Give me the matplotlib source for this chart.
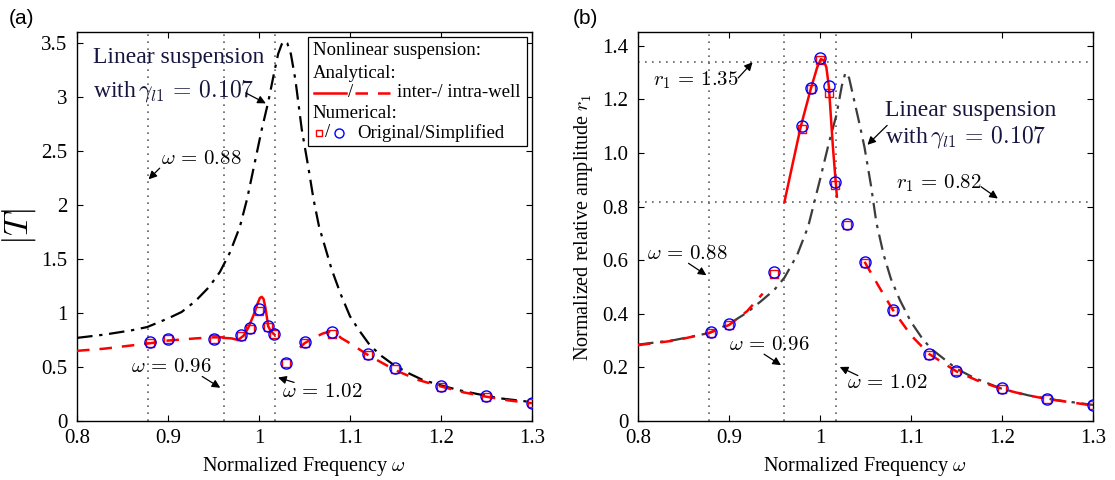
import matplotlib
matplotlib.use('Agg')
import matplotlib.pyplot as plt
from matplotlib.patches import Rectangle

plt.rcParams['font.family'] = ['Liberation Serif', 'DejaVu Serif']
plt.rcParams['mathtext.fontset'] = 'cm'

# ---------------- Panel (a) data: transmissibility |T| ----------------
w_lin_a = [0.80, 0.83, 0.86, 0.877, 0.90, 0.915, 0.93, 0.945, 0.957, 0.968, 0.979, 0.987,
           0.995, 1.003, 1.010, 1.016, 1.021, 1.025, 1.028, 1.031, 1.035, 1.040, 1.047,
           1.054, 1.060, 1.066, 1.073, 1.080, 1.090, 1.100, 1.110, 1.122, 1.135, 1.148,
           1.165, 1.180, 1.200, 1.220, 1.240, 1.265, 1.300]
T_lin_a = [0.77, 0.80, 0.84, 0.87, 0.95, 1.01, 1.11, 1.24, 1.38, 1.56, 1.80, 2.06,
           2.38, 2.70, 2.95, 3.20, 3.40, 3.49, 3.52, 3.50, 3.40, 3.16, 2.70,
           2.36, 2.05, 1.80, 1.60, 1.40, 1.17, 0.97, 0.84, 0.70, 0.60, 0.52,
           0.44, 0.38, 0.33, 0.285, 0.25, 0.21, 0.175]

w_inter_a = [0.961, 0.970, 0.977, 0.983, 0.988, 0.994, 0.998, 1.001, 1.003, 1.005, 1.007,
             1.0085, 1.010, 1.013, 1.017]
T_inter_a = [0.77, 0.765, 0.75, 0.79, 0.86, 0.98, 1.08, 1.14, 1.15, 1.13, 1.05,
             0.97, 0.88, 0.83, 0.80]

w_intraL_a = [0.80, 0.83, 0.86, 0.88, 0.90, 0.93, 0.95, 0.961]
T_intraL_a = [0.65, 0.67, 0.70, 0.72, 0.745, 0.765, 0.775, 0.775]

w_intraR_a = [1.045, 1.05, 1.06, 1.07, 1.078, 1.085, 1.09, 1.10, 1.12, 1.15, 1.175, 1.20,
              1.225, 1.25, 1.275, 1.30]
T_intraR_a = [0.68, 0.72, 0.77, 0.81, 0.83, 0.81, 0.77, 0.72, 0.61, 0.47, 0.38, 0.32,
              0.265, 0.225, 0.19, 0.165]

w_num = [0.88, 0.90, 0.95, 0.98, 0.99, 1.00, 1.01, 1.017, 1.03, 1.05, 1.08, 1.12, 1.15,
         1.20, 1.25, 1.30]
T_sq_a = [0.72, 0.76, 0.76, 0.79, 0.85, 1.02, 0.87, 0.81, 0.535, 0.72, 0.81, 0.61, 0.48,
          0.315, 0.225, 0.165]
T_ci_a = [0.73, 0.76, 0.76, 0.80, 0.86, 1.04, 0.88, 0.81, 0.535, 0.73, 0.82, 0.62, 0.49,
          0.32, 0.23, 0.17]

# ---------------- Panel (b) data: relative amplitude r1 ----------------
w_lin_b = [0.80, 0.84, 0.878, 0.90, 0.92, 0.937, 0.95, 0.961, 0.975, 0.987, 1.000, 1.010,
           1.018, 1.024, 1.028, 1.032, 1.038, 1.044, 1.049, 1.056, 1.062, 1.070, 1.078,
           1.088, 1.100, 1.112, 1.122, 1.135, 1.150, 1.170, 1.200, 1.230, 1.260, 1.300]
r_lin_b = [0.285, 0.302, 0.328, 0.362, 0.405, 0.452, 0.49, 0.535, 0.62, 0.725, 0.90, 1.04,
           1.14, 1.25, 1.30, 1.28, 1.19, 1.10, 1.02, 0.88, 0.74, 0.62, 0.53,
           0.45, 0.37, 0.31, 0.27, 0.235, 0.195, 0.16, 0.12, 0.095, 0.078, 0.06]

w_inter_b = [0.961, 0.970, 0.979, 0.990, 0.997, 1.001, 1.004, 1.007, 1.0098, 1.0142, 1.0186]
r_inter_b = [0.818, 0.96, 1.10, 1.24, 1.32, 1.35, 1.345, 1.32, 1.247, 1.023, 0.837]

w_intraL_b = [0.80, 0.84, 0.878, 0.90, 0.92, 0.937]
r_intraL_b = [0.283, 0.30, 0.328, 0.358, 0.41, 0.475]

w_intraR_b = [1.049, 1.065, 1.08, 1.10, 1.12, 1.15, 1.175, 1.20, 1.225, 1.25, 1.275, 1.30]
r_intraR_b = [0.594, 0.50, 0.415, 0.32, 0.25, 0.185, 0.148, 0.12, 0.098, 0.082, 0.07, 0.058]

r_sq_b = [0.33, 0.36, 0.55, 1.09, 1.24, 1.345, 1.225, 0.88, 0.73, 0.59, 0.41, 0.248,
          0.185, 0.12, 0.082, 0.06]
r_ci_b = [0.331, 0.362, 0.557, 1.10, 1.243, 1.353, 1.25, 0.893, 0.734, 0.594, 0.414, 0.249,
          0.188, 0.122, 0.082, 0.06]

w_marks = [0.878, 0.961, 1.018]
r_marks = [1.34, 0.817]

xticks = [0.8, 0.9, 1.0, 1.1, 1.2, 1.3]
xticklabels = ['0.8', '0.9', '1', '1.1', '1.2', '1.3']
yticks_a = [0, 0.5, 1, 1.5, 2, 2.5, 3, 3.5]
yticklabels_a = ['0', '0.5', '1', '1.5', '2', '2.5', '3', '3.5']
yticks_b = [0, 0.2, 0.4, 0.6, 0.8, 1.0, 1.2, 1.4]
yticklabels_b = ['0', '0.2', '0.4', '0.6', '0.8', '1.0', '1.2', '1.4']

RED = '#ff0000'
BLUE = '#0000ff'
NAVY = '#15153f'
DOTC = '#606060'
DASHDOT = (0, (7, 3, 1.5, 3))
DASHED = (0, (5, 4))
DOTTED = (0, (1, 3.2))

fig = plt.figure(figsize=(11.15, 4.8), dpi=100)
axA = fig.add_axes([0.0691, 0.1229, 0.408, 0.8098])
axB = fig.add_axes([0.5722, 0.1229, 0.408, 0.8098])

for ax in (axA, axB):
    ax.set_xlim(0.8, 1.3)
    ax.set_xticks(xticks)
    ax.set_xticklabels(xticklabels)
    ax.tick_params(direction='in', top=True, right=True, length=4, width=0.8,
                   labelsize=15, colors='black')
    ax.tick_params(axis='x', pad=6)
    ax.tick_params(axis='y', pad=7)
    for s in ax.spines.values():
        s.set_linewidth(1.0)
    for w in w_marks:
        ax.axvline(w, color=DOTC, lw=1.2, ls=DOTTED, zorder=1)
    ax.set_xlabel(r'Normalized Frequency $\omega$', fontsize=14.5, labelpad=5)

# ---------------- Panel (a) ----------------
ax = axA
ax.set_ylim(0, 3.6)
ax.set_yticks(yticks_a)
ax.set_yticklabels(yticklabels_a)
ax.plot(w_lin_a, T_lin_a, color='black', lw=1.6, ls=DASHDOT, zorder=3)
ax.plot(w_intraL_a, T_intraL_a, color=RED, lw=1.8, ls=DASHED, zorder=4)
ax.plot(w_intraR_a, T_intraR_a, color=RED, lw=1.8, ls=DASHED, zorder=4)
ax.plot(w_inter_a, T_inter_a, color=RED, lw=1.8, ls='-', zorder=4)
ax.plot(w_num, T_sq_a, ls='none', marker='s', ms=6, mfc='none', mec=RED, mew=1.0, zorder=5)
ax.plot(w_num, T_ci_a, ls='none', marker='o', ms=8, mfc='none', mec=BLUE, mew=1.0, zorder=6)
ax.set_ylabel(r'$|T|$', fontsize=25, labelpad=2)

ax.text(0.8176, 3.37, 'Linear suspension', fontsize=17, color=NAVY, va='center', ha='left')
ax.text(0.8176, 3.06, r'with$\,\gamma_{l1}\,=\,0.107$', fontsize=17, color=NAVY, va='center', ha='left')
ax.annotate('', xy=(1.0102, 2.93), xytext=(0.9828, 3.05),
            arrowprops=dict(arrowstyle='-|>', color='black', lw=0.9, mutation_scale=12))
ax.text(0.892, 2.42, r'$\omega\,=\,0.88$', fontsize=15, va='center', ha='left')
ax.annotate('', xy=(0.8765, 2.22), xytext=(0.893, 2.36),
            arrowprops=dict(arrowstyle='-|>', color='black', lw=0.9, mutation_scale=12))
ax.text(0.859, 0.50, r'$\omega\,=\,0.96$', fontsize=15, va='center', ha='left')
ax.annotate('', xy=(0.960, 0.294), xytext=(0.935, 0.426),
            arrowprops=dict(arrowstyle='-|>', color='black', lw=0.9, mutation_scale=12))
ax.text(1.0257, 0.262, r'$\omega\,=\,1.02$', fontsize=15, va='center', ha='left')
ax.annotate('', xy=(1.018, 0.41), xytext=(1.0415, 0.35),
            arrowprops=dict(arrowstyle='-|>', color='black', lw=0.9, mutation_scale=12))

# legend box (panel a)
T = ax.transAxes
ax.add_patch(Rectangle((0.5077, 0.7075), 0.4813, 0.2805, transform=T, facecolor='white',
                       edgecolor='black', lw=0.9, zorder=7))
lx = 0.518
ax.text(lx, 0.952, 'Nonlinear suspension:', transform=T, fontsize=13.5, va='center', zorder=8)
ax.text(lx, 0.895, 'Analytical:', transform=T, fontsize=13.5, va='center', zorder=8)
ax.plot([0.521, 0.591], [0.845, 0.845], transform=T, color=RED, lw=1.8, zorder=8)
ax.text(0.596, 0.845, '/', transform=T, fontsize=13.5, va='center', zorder=8)
ax.plot([0.612, 0.696], [0.845, 0.845], transform=T, color=RED, lw=1.8, ls=DASHED, zorder=8)
ax.text(0.703, 0.845, 'inter-/ intra-well', transform=T, fontsize=13.5, va='center', zorder=8)
ax.text(lx, 0.792, 'Numerical:', transform=T, fontsize=13.5, va='center', zorder=8)
ax.plot([0.531], [0.741], transform=T, marker='s', ms=5, mfc='none', mec=RED, mew=1.0, zorder=8)
ax.text(0.545, 0.741, '/', transform=T, fontsize=13.5, va='center', zorder=8)
ax.plot([0.575], [0.741], transform=T, marker='o', ms=6.5, mfc='none', mec=BLUE, mew=1.0, zorder=8)
ax.text(0.615, 0.741, 'Original/Simplified', transform=T, fontsize=13.5, va='center', zorder=8)

# ---------------- Panel (b) ----------------
ax = axB
ax.set_ylim(0, 1.45)
ax.set_yticks(yticks_b)
ax.set_yticklabels(yticklabels_b)
for r in r_marks:
    ax.axhline(r, color=DOTC, lw=1.2, ls=DOTTED, zorder=1)
ax.plot(w_lin_b, r_lin_b, color='#3c3c3c', lw=1.6, ls=DASHDOT, zorder=3)
ax.plot(w_intraL_b, r_intraL_b, color=RED, lw=1.8, ls=DASHED, zorder=4)
ax.plot(w_intraR_b, r_intraR_b, color=RED, lw=1.8, ls=DASHED, zorder=4)
ax.plot(w_inter_b, r_inter_b, color=RED, lw=1.8, ls='-', zorder=4)
ax.plot(w_num, r_sq_b, ls='none', marker='s', ms=6, mfc='none', mec=RED, mew=1.0, zorder=5)
ax.plot(w_num, r_ci_b, ls='none', marker='o', ms=8, mfc='none', mec=BLUE, mew=1.0, zorder=6)
ax.set_ylabel(r'Normalized relative amplitude $r_1$', fontsize=14.5, labelpad=5)

ax.text(0.816, 1.272, r'$r_1\,=\,1.35$', fontsize=15, va='center', ha='left')
ax.annotate('', xy=(0.928, 1.346), xytext=(0.908, 1.272),
            arrowprops=dict(arrowstyle='-|>', color='black', lw=0.9, mutation_scale=12))
ax.text(1.072, 1.16, 'Linear suspension', fontsize=17, color=NAVY, va='center', ha='left')
ax.text(1.072, 1.06, r'with$\,\gamma_{l1}\,=\,0.107$', fontsize=17, color=NAVY, va='center', ha='left')
ax.annotate('', xy=(1.050, 1.023), xytext=(1.076, 1.11),
            arrowprops=dict(arrowstyle='-|>', color='black', lw=0.9, mutation_scale=12))
ax.text(1.0835, 0.887, r'$r_1\,=\,0.82$', fontsize=15, va='center', ha='left')
ax.annotate('', xy=(1.198, 0.824), xytext=(1.1745, 0.88),
            arrowprops=dict(arrowstyle='-|>', color='black', lw=0.9, mutation_scale=12))
ax.text(0.810, 0.62, r'$\omega\,=\,0.88$', fontsize=15, va='center', ha='left')
ax.annotate('', xy=(0.8777, 0.538), xytext=(0.853, 0.594),
            arrowprops=dict(arrowstyle='-|>', color='black', lw=0.9, mutation_scale=12))
ax.text(0.9, 0.283, r'$\omega\,=\,0.96$', fontsize=15, va='center', ha='left')
ax.annotate('', xy=(0.9597, 0.2025), xytext=(0.936, 0.255),
            arrowprops=dict(arrowstyle='-|>', color='black', lw=0.9, mutation_scale=12))
ax.text(1.0295, 0.14, r'$\omega\,=\,1.02$', fontsize=15, va='center', ha='left')
ax.annotate('', xy=(1.019, 0.206), xytext=(1.0444, 0.165),
            arrowprops=dict(arrowstyle='-|>', color='black', lw=0.9, mutation_scale=12))

fig.text(9 / 1115, 1 - 18 / 480, '(a)', fontsize=15, family='Liberation Sans', va='center', ha='left')
fig.text(573 / 1115, 1 - 18 / 480, '(b)', fontsize=15, family='Liberation Sans', va='center', ha='left')

fig.savefig('out.png', dpi=100)
